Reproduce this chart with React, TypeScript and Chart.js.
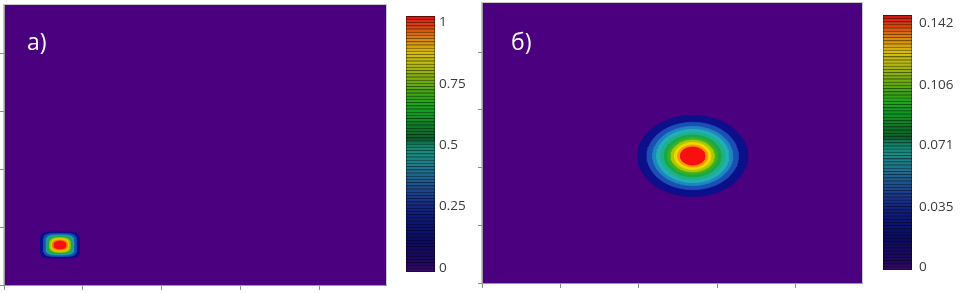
import React, { useEffect, useRef } from "react";
import { Chart, registerables } from "chart.js";

Chart.register(...registerables);

// ---------- axes ----------
const AXIS_TICKS = [0, 1, 2, 3, 4];
const A_X_MAX = 4.84;
const A_Y_MAX = 4.83;
const B_X_MAX = 4.85;
const B_Y_MAX = 4.85;

// ---------- panel a) contour bands (outer -> inner) ----------
const A_LABEL = "a)";
const A_CENTER = [0.71, 0.69];
const A_RAD_X = [0.247, 0.209, 0.177, 0.152, 0.133, 0.114, 0.095, 0.076];
const A_RAD_Y = [0.224, 0.198, 0.172, 0.147, 0.129, 0.112, 0.086, 0.069];
const A_SHAPE = [5, 4.5, 4, 3.5, 3, 2.8, 2.5, 2.2];
const A_COLORS = ["#0b0f8a", "#1a50b0", "#20a0a0", "#20a840", "#90c010", "#e8c800", "#f08000", "#f81010"];

// ---------- panel б) contour bands (outer -> inner) ----------
const B_LABEL = "б)";
const B_CENTER = [2.69, 2.2];
const B_RAD_X = [0.702, 0.583, 0.511, 0.46, 0.413, 0.362, 0.319, 0.277, 0.234, 0.192, 0.157];
const B_RAD_Y = [0.702, 0.583, 0.511, 0.46, 0.413, 0.362, 0.319, 0.277, 0.234, 0.192, 0.157];
const B_SHAPE = [2, 2, 2, 2, 2, 2, 2, 2, 2, 2, 2];
const B_COLORS = ["#0b0f8a", "#1a4fb5", "#1e86c0", "#22b0b8", "#20b088", "#18a848", "#3cb020", "#a8c808", "#f0d800", "#f89800", "#f81010"];

// ---------- colour bars ----------
const A_BAR_MAX = 1;
const A_BAR_TICKS = [0, 0.25, 0.5, 0.75, 1];
const A_BAR_LABELS = ["0", "0.25", "0.5", "0.75", "1"];
const B_BAR_MAX = 0.142;
const B_BAR_TICKS = [0, 0.035, 0.071, 0.106, 0.142];
const B_BAR_LABELS = ["0", "0.035", "0.071", "0.106", "0.142"];
const BAR_BANDS = 80;

const PALETTE_STOPS = [0, 0.03, 0.125, 0.22, 0.28, 0.34, 0.4, 0.46, 0.5, 0.52, 0.63, 0.69, 0.75, 0.81, 0.85, 0.89, 0.93, 0.97, 1];
const PALETTE_COLORS = ["#3c0a70", "#22085f", "#0c0c62", "#0e1a78", "#1a3286", "#1f528e", "#1f748e", "#1a8c82", "#128060", "#0c5c2c", "#12a024", "#38a414", "#78ac12", "#b4b412", "#d4c012", "#dc9c10", "#dc6c10", "#dc3810", "#dc1010"];

const FIELD_BG = "#4b007f";

function hexToRgb(h: string) {
  const n = parseInt(h.slice(1), 16);
  return [(n >> 16) & 255, (n >> 8) & 255, n & 255];
}
function paletteRgb(f: number) {
  for (let i = 0; i < PALETTE_STOPS.length - 1; i++) {
    const a = PALETTE_STOPS[i], b = PALETTE_STOPS[i + 1];
    if (f <= b || i === PALETTE_STOPS.length - 2) {
      const t = Math.max(0, Math.min(1, (f - a) / (b - a)));
      const c1 = hexToRgb(PALETTE_COLORS[i]);
      const c2 = hexToRgb(PALETTE_COLORS[i + 1]);
      return c1.map((v, k) => Math.round(v + (c2[k] - v) * t));
    }
  }
  return hexToRgb(PALETTE_COLORS[PALETTE_COLORS.length - 1]);
}
function rgbStr(c: number[], k = 1) {
  return `rgb(${Math.round(c[0] * k)},${Math.round(c[1] * k)},${Math.round(c[2] * k)})`;
}

function bandOutline(cx: number, cy: number, rx: number, ry: number, p: number) {
  const pts: { x: number; y: number }[] = [];
  const n = 120;
  for (let k = 0; k <= n; k++) {
    const t = (2 * Math.PI * k) / n;
    const c = Math.cos(t), s = Math.sin(t);
    pts.push({
      x: cx + rx * Math.sign(c) * Math.pow(Math.abs(c), 2 / p),
      y: cy + ry * Math.sign(s) * Math.pow(Math.abs(s), 2 / p),
    });
  }
  return pts;
}

function contourConfig(o: any): any {
  const nb = o.colors.length;
  const datasets = o.colors.map((col: string, i: number) => ({
    data: bandOutline(o.center[0], o.center[1], o.radX[i], o.radY[i], o.shape[i]),
    showLine: true,
    fill: "shape",
    backgroundColor: col,
    borderColor: col,
    borderWidth: 0.8,
    pointRadius: 0,
    tension: 0,
    order: nb - i,
  }));
  const bgPlugin = {
    id: "fieldBg",
    beforeDraw(chart: any) {
      const { ctx, chartArea: a } = chart;
      ctx.save();
      ctx.fillStyle = FIELD_BG;
      ctx.fillRect(a.left, a.top, a.right - a.left, a.bottom - a.top);
      ctx.strokeStyle = "#c8c8c8";
      ctx.lineWidth = 1;
      ctx.strokeRect(a.left - 0.5, a.top - 0.5, a.right - a.left + 1, a.bottom - a.top + 1);
      ctx.restore();
    },
  };
  const labelPlugin = {
    id: "panelLabel",
    afterDatasetsDraw(chart: any) {
      const { ctx, chartArea: a } = chart;
      ctx.save();
      ctx.fillStyle = "#ffffff";
      ctx.font = '23px "Open Sans", sans-serif';
      ctx.textBaseline = "alphabetic";
      ctx.textAlign = "left";
      ctx.fillText(o.label, a.left + o.labelDx, o.labelBaseline);
      ctx.restore();
    },
  };
  const tickSetter = (s: any) => {
    s.ticks = AXIS_TICKS.map((v) => ({ value: v }));
  };
  return {
    type: "scatter",
    data: { datasets },
    options: {
      animation: false,
      responsive: false,
      devicePixelRatio: 1,
      events: [],
      layout: { padding: o.padding },
      plugins: { legend: { display: false }, tooltip: { enabled: false } },
      scales: {
        x: {
          type: "linear",
          min: 0,
          max: o.xMax,
          afterBuildTicks: tickSetter,
          afterFit: (s: any) => {
            s.height = 5;
          },
          ticks: { display: false },
          grid: { display: true, drawOnChartArea: false, drawTicks: true, tickLength: 5, color: "#8c8c8c" },
          border: { display: true, color: "#9a9a9a" },
        },
        y: {
          type: "linear",
          min: 0,
          max: o.yMax,
          afterBuildTicks: tickSetter,
          afterFit: (s: any) => {
            s.width = 4;
          },
          ticks: { display: false },
          grid: { display: true, drawOnChartArea: false, drawTicks: true, tickLength: 4, color: "#8c8c8c" },
          border: { display: true, color: "#9a9a9a" },
        },
      },
    },
    plugins: [bgPlugin, labelPlugin],
  };
}

function colorbarConfig(o: any): any {
  const step = o.max / BAR_BANDS;
  const datasets = Array.from({ length: BAR_BANDS }, (_, i) => {
    const c = paletteRgb((i + 0.5) / BAR_BANDS);
    return {
      data: [step],
      backgroundColor: rgbStr(c),
      borderColor: rgbStr(c, 0.55),
      borderWidth: { top: 1, left: 0, right: 0, bottom: 0 },
      borderSkipped: false,
      barPercentage: 1,
      categoryPercentage: 1,
      xAxisID: "x",
      yAxisID: "yb",
    };
  });
  const outline = {
    id: "cbOutline",
    beforeDatasetsDraw(chart: any) {
      const { ctx, chartArea: a } = chart;
      ctx.save();
      ctx.fillStyle = "#202020";
      ctx.fillRect(a.left, a.top, a.right - a.left, a.bottom - a.top);
      ctx.restore();
    },
    afterDatasetsDraw(chart: any) {
      const { ctx, chartArea: a } = chart;
      ctx.save();
      ctx.strokeStyle = "rgba(0,0,0,0.35)";
      ctx.lineWidth = 1;
      ctx.strokeRect(a.left + 0.5, a.top + 0.5, a.right - a.left - 1, a.bottom - a.top - 1);
      ctx.restore();
    },
  };
  return {
    type: "bar",
    data: { labels: [""], datasets },
    options: {
      animation: false,
      responsive: false,
      devicePixelRatio: 1,
      events: [],
      layout: { padding: o.padding },
      plugins: { legend: { display: false }, tooltip: { enabled: false } },
      scales: {
        x: { display: false, stacked: true },
        yb: { display: false, stacked: true, min: 0, max: o.max, position: "left" },
        y: {
          position: "right",
          display: true,
          min: o.labelMin,
          max: o.labelMax,
          afterBuildTicks: (s: any) => {
            s.ticks = o.ticks.map((v: number) => ({ value: v }));
          },
          afterFit: (s: any) => {
            s.width = o.axisWidth;
          },
          grid: { display: false, drawTicks: false },
          border: { display: false },
          ticks: {
            padding: o.labelPad,
            color: "#3a3a3a",
            font: { family: '"Open Sans", sans-serif', size: 13.5 },
            callback: (_v: any, i: number) => o.labels[i],
            autoSkip: false,
          },
        },
      },
    },
    plugins: [outline],
  };
}

function ChartCanvas(props: { left: number; top: number; width: number; height: number; make: () => any }) {
  const ref = useRef<HTMLCanvasElement>(null);
  useEffect(() => {
    const chart = new Chart(ref.current as HTMLCanvasElement, props.make());
    return () => chart.destroy();
  }, []);
  return (
    <canvas
      ref={ref}
      width={props.width}
      height={props.height}
      style={{ position: "absolute", left: props.left, top: props.top, width: props.width, height: props.height }}
    />
  );
}

export default function App() {
  return (
    <div style={{ position: "absolute", left: 0, top: 0, width: 961, height: 293, background: "#ffffff", overflow: "hidden" }}>
      <ChartCanvas
        left={0}
        top={0}
        width={390}
        height={293}
        make={() =>
          contourConfig({
            xMax: A_X_MAX,
            yMax: A_Y_MAX,
            center: A_CENTER,
            radX: A_RAD_X,
            radY: A_RAD_Y,
            shape: A_SHAPE,
            colors: A_COLORS,
            label: A_LABEL,
            labelDx: 23,
            labelBaseline: 50,
            padding: { left: 0, top: 5, right: 4, bottom: 3 },
          })
        }
      />
      <ChartCanvas
        left={400}
        top={0}
        width={80}
        height={293}
        make={() =>
          colorbarConfig({
            max: A_BAR_MAX,
            ticks: A_BAR_TICKS,
            labels: A_BAR_LABELS,
            labelMin: -0.0163 * A_BAR_MAX,
            labelMax: 1.0265 * A_BAR_MAX,
            axisWidth: 45,
            labelPad: 4,
            padding: { left: 6, top: 16, right: 0, bottom: 21 },
          })
        }
      />
      <ChartCanvas
        left={478}
        top={0}
        width={390}
        height={293}
        make={() =>
          contourConfig({
            xMax: B_X_MAX,
            yMax: B_Y_MAX,
            center: B_CENTER,
            radX: B_RAD_X,
            radY: B_RAD_Y,
            shape: B_SHAPE,
            colors: B_COLORS,
            label: B_LABEL,
            labelDx: 29,
            labelBaseline: 50,
            padding: { left: 0, top: 3, right: 6, bottom: 5 },
          })
        }
      />
      <ChartCanvas
        left={877}
        top={0}
        width={84}
        height={293}
        make={() =>
          colorbarConfig({
            max: B_BAR_MAX,
            ticks: B_BAR_TICKS,
            labels: B_BAR_LABELS,
            labelMin: -0.0122 * B_BAR_MAX,
            labelMax: 1.0327 * B_BAR_MAX,
            axisWidth: 49,
            labelPad: 7,
            padding: { left: 6, top: 14, right: 0, bottom: 23 },
          })
        }
      />
    </div>
  );
}
